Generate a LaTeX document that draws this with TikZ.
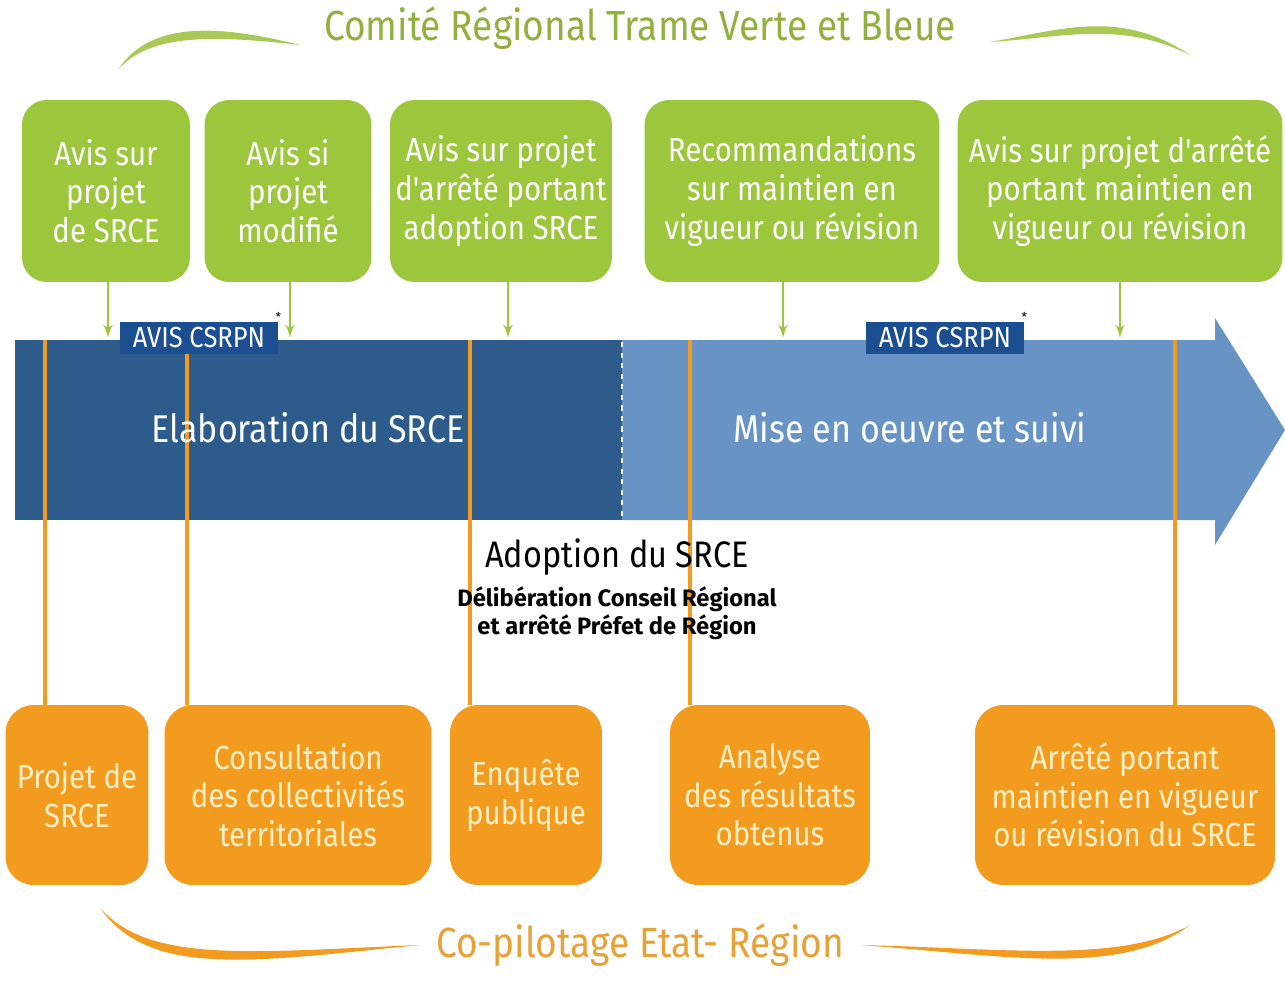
\documentclass[tikz,border=0pt]{standalone}
\usepackage{fontspec}
\setmainfont{Fira Sans}
\newfontfamily\etroit{Fira Sans}[FakeStretch=0.88]
\usepackage{tikz}
\usetikzlibrary{arrows}
\usetikzlibrary{positioning}

\definecolor{vertbox}{HTML}{9CC63C}
\definecolor{verttitre}{HTML}{93AF3F}
\definecolor{vertswoosh}{HTML}{A8CA55}
\definecolor{orangebox}{HTML}{F39B1F}
\definecolor{orangetitre}{HTML}{E6A237}
\definecolor{bleufonce}{HTML}{2D5B8C}
\definecolor{bleuclair}{HTML}{6893C5}
\definecolor{bleuavis}{HTML}{1B4F91}
\definecolor{creme}{HTML}{FCEFC4}

\begin{document}
\begin{tikzpicture}[x=0.02cm, y=-0.02cm,
    avis/.style={fill=vertbox, rounded corners=14pt, minimum height=3.64cm, inner sep=0pt, align=center, text=white, font=\etroit\fontsize{19}{22}\selectfont},
    etape/.style={fill=orangebox, rounded corners=16pt, minimum height=3.6cm, inner sep=0pt, align=center, text=creme, font=\etroit\fontsize{19}{22}\selectfont},
    csrpn/.style={fill=bleuavis, text=white, minimum width=3.16cm, minimum height=0.64cm, inner sep=0pt, font=\etroit\fontsize{16.5}{18}\selectfont},
    phase/.style={text=white, font=\etroit\fontsize{22}{26}\selectfont},
    fleche/.style={vertbox, line width=1.6pt, -latex'},
    lien/.style={orangebox, line width=2.2pt}]
    \useasboundingbox (0,0) rectangle (1285,984);
    \fill[white] (0,0) rectangle (1285,984);

    % titres et virgules
    \node[text=verttitre, font=\etroit\fontsize{24}{28}\selectfont] (comite) at (640,28) {Comité Régional Trame Verte et Bleue};
    \node[text=orangetitre, font=\etroit\fontsize{24}{28}\selectfont] (copil) at (640,945) {Co-pilotage Etat- Région};
    \fill[vertswoosh] (118,70) .. controls (150,20) and (220,25) .. (300,45) .. controls (220,36) and (150,32) .. (118,70) -- cycle;
    \fill[vertswoosh] (990,42) .. controls (1060,30) and (1120,8) .. (1190,55) .. controls (1120,20) and (1060,38) .. (990,42) -- cycle;
    \fill[orangebox] (100,908) .. controls (150,978) and (250,962) .. (420,945) .. controls (250,952) and (150,964) .. (100,908) -- cycle;
    \fill[orangebox] (860,945) .. controls (1000,955) and (1120,978) .. (1190,925) .. controls (1120,964) and (1000,948) .. (860,945) -- cycle;

    % fleche du temps
    \fill[bleufonce] (15,340) rectangle (622,520);
    \fill[bleuclair] (622,340) -- (1215,340) -- (1215,318) -- (1285,430) -- (1215,545) -- (1215,520) -- (622,520) -- cycle;
    \draw[white, dashed, line width=1.2pt] (622,342) -- (622,520);
    \coordinate (haut) at (0,338);

    % avis du comite
    \node[avis, minimum width=3.36cm] (g1) at (106,191) {Avis sur\\projet\\de SRCE};
    \node[avis, minimum width=3.34cm] (g2) at (288,191) {Avis si\\projet\\modifié};
    \node[avis, minimum width=4.44cm] (g3) at (501,191) {Avis sur projet\\d'arrêté portant\\adoption SRCE};
    \node[avis, minimum width=5.90cm] (g4) at (792,191) {Recommandations\\sur maintien en\\vigueur ou révision};
    \node[avis, minimum width=6.50cm] (g5) at (1120,191) {Avis sur projet d'arrêté\\portant maintien en\\vigueur ou révision};
    \foreach \g/\dx in {g1/2, g2/2, g3/7, g4/-9, g5/0}
      \draw[fleche] ([xshift=\dx*0.02cm]\g.south) -- ([xshift=\dx*0.02cm]\g.south |- haut);

    % etapes
    \node[etape, minimum width=2.86cm] (o1) at (77,795) {Projet de\\SRCE};
    \node[etape, minimum width=5.34cm] (o2) at (298,795) {Consultation\\des collectivités\\territoriales};
    \node[etape, minimum width=3.04cm] (o3) at (526,795) {Enquête\\publique};
    \node[etape, minimum width=4.00cm] (o4) at (770,795) {Analyse\\des résultats\\obtenus};
    \node[etape, minimum width=6.00cm] (o5) at (1125,795) {Arrêté portant\\maintien en vigueur\\ou révision du SRCE};
    \coordinate (t1) at (45,340);
    \coordinate (t2) at (187,340);
    \coordinate (t3) at (470,340);
    \coordinate (t4) at (690,340);
    \coordinate (t5) at (1175,340);
    \foreach \t/\o in {t1/o1, t2/o2, t3/o3, t4/o4, t5/o5}
      \draw[lien] (\t) -- (\t |- \o.north);

    % avis CSRPN
    \node[csrpn] (c1) at (199,338) {AVIS CSRPN};
    \node[csrpn] (c2) at (945,338) {AVIS CSRPN};
    \node[font=\scriptsize, inner sep=0pt, anchor=south] at (c1.north east) {*};
    \node[font=\scriptsize, inner sep=0pt, anchor=south] at (c2.north east) {*};

    \node[phase] (elab) at (308,428) {Elaboration du SRCE};
    \node[phase] (mise) at (910,428) {Mise en oeuvre et suivi};

    \node[font=\etroit\fontsize{21}{24}\selectfont, inner sep=0pt] (adopt) at (617,557) {Adoption du SRCE};
    \node[font=\bfseries\fontsize{13.5}{16}\selectfont, align=center, inner sep=0pt, below=6pt of adopt] (delib) {Délibération Conseil Régional\\et arrêté Préfet de Région};
\end{tikzpicture}
\end{document}
